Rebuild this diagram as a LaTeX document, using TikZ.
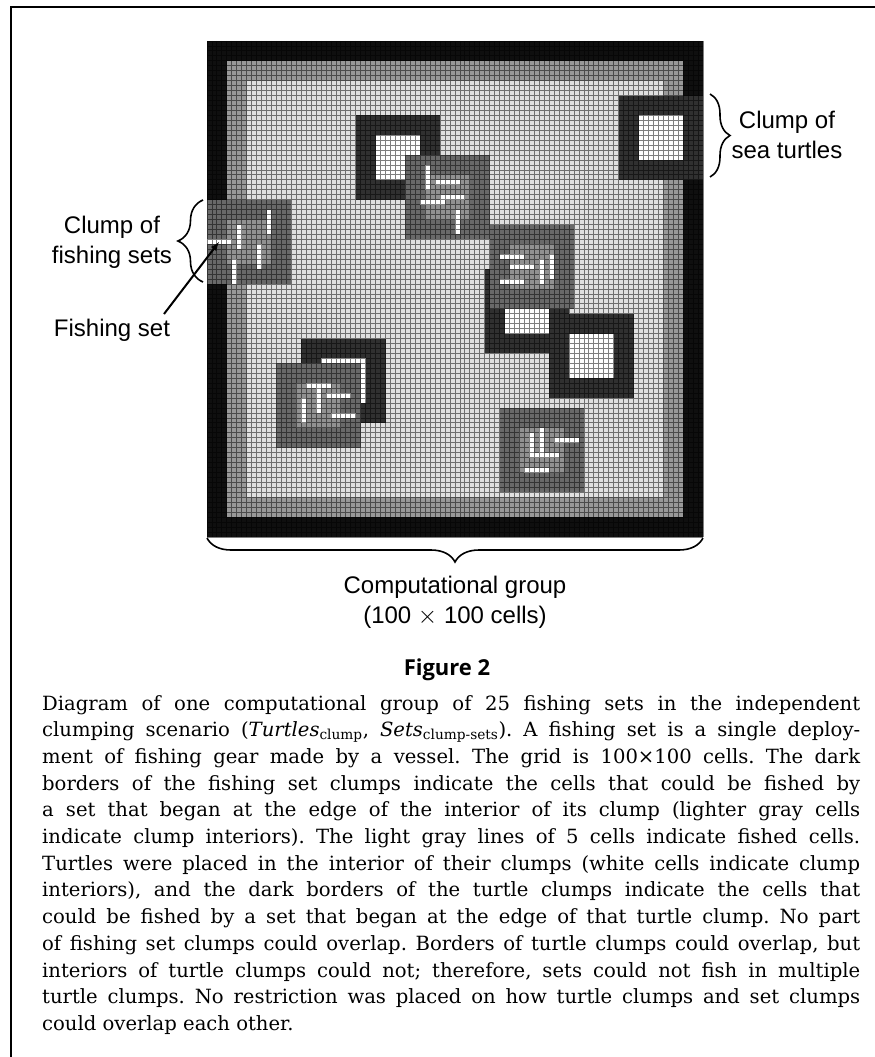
\documentclass[tikz,border=0pt]{standalone}
\usepackage{fontspec}
\usetikzlibrary{decorations.pathreplacing}
\newfontfamily\labelfont{Liberation Sans}
\newfontfamily\headfont{Open Sans}
\newfontfamily\bodyfont{DejaVu Serif}
\definecolor{ringblack}{gray}{0.06}
\definecolor{ringgray}{gray}{0.6}
\definecolor{seafill}{gray}{0.88}
\definecolor{turtleedge}{gray}{0.19}
\definecolor{setedge}{gray}{0.41}
\definecolor{setcore}{gray}{0.57}
\begin{document}
\begin{tikzpicture}[x=1pt, y=-1pt,
    lab/.style = {font=\labelfont\fontsize{24}{30}\selectfont, align=center, inner sep=0pt},
    bracket/.style = {draw, line width=1.6pt, decorate, decoration={brace, amplitude=#1}},
    pointer/.style = {draw, line width=2pt, -latex},
    gridline/.style = {draw=black, opacity=0.5, line width=0.9pt},
    captext/.style = {text width=818pt, align=justify, inner sep=0pt,
        font=\bodyfont\fontsize{19.6}{26.7}\selectfont\frenchspacing}]
    \useasboundingbox (0,0) rectangle (875,1057);
    \draw[line width=2pt] (11,1057) -- (11,7) -- (875,7);
    % the 100 x 100 cells
    \begin{scope}[shift={(207pt,-41pt)}, x=4.96pt, y=-4.96pt]
        \fill[ringblack] (0,0) rectangle (100,100);
        \fill[ringgray] (4,4) rectangle (96,96);
        \fill[seafill] (8,8) rectangle (92,92);
        % turtle clumps
        \foreach \c/\r in {83/11, 30/15, 56/46, 69/55, 19/60} {
            \fill[turtleedge] (\c,\r) rectangle +(17,17);
            \fill[white] (\c+4,\r+4) rectangle +(9,9);
        }
        % fishing set clumps
        \foreach \c/\r in {0/32, 40/23, 57/37, 59/74, 14/65} {
            \fill[setedge] (\c,\r) rectangle +(17,17);
            \fill[setcore] (\c+4,\r+4) rectangle +(9,9);
        }
        % fishing sets
        \foreach \c/\r/\w/\h in {12/34/1/5, 6/37/1/5, 0/40/5/1, 10/41/1/5, 5/44/1/5,
                44/25/1/5, 46/28/5/1, 47/31/5/1, 43/32/5/1, 50/34/1/5,
                59/43/5/1, 61/45/5/1, 59/48/5/1, 67/44/1/5, 69/43/1/5,
                65/79/1/5, 67/78/1/5, 66/83/5/1, 70/80/5/1, 64/86/5/1,
                20/69/5/1, 22/70/1/5, 24/71/5/1, 19/72/1/5, 25/75/5/1} {
            \fill[white] (\c,\r) rectangle +(\w,\h);
        }
        \draw[gridline] foreach \k in {0,...,100} {(\k,0) -- (\k,100) (0,\k) -- (100,\k)};
    \end{scope}
    % labels
    \coordinate (tb1) at (710,94);
    \coordinate (tb2) at (710,177);
    \draw[bracket=20] (tb1) -- (tb2);
    \node[lab] (turtlelab) at (787,135) {Clump of\\sea turtles};
    \coordinate (sb1) at (203,282);
    \coordinate (sb2) at (203,200);
    \draw[bracket=25] (sb1) -- (sb2);
    \node[lab] (setlab) at (112,242) {Clump of\\fishing sets};
    \node[lab] (fishlab) at (112,330) {Fishing set};
    \coordinate (fishtail) at (164,314);
    \coordinate (fishtip) at (219,242);
    \draw[pointer] (fishtail) -- (fishtip);
    \coordinate (gb1) at (703,538);
    \coordinate (gb2) at (207,538);
    \draw[bracket=24] (gb1) -- (gb2);
    \node[lab] (grouplab) at (455,602) {Computational group\\(100 $\times$ 100 cells)};
    \node[font=\headfont\bfseries\fontsize{22}{26}\selectfont, inner sep=0pt] (figlab) at (447,670) {Figure 2};
    \node[captext, anchor=base west] (caption) at (42,710) {Diagram of one computational group of 25 fishing sets in the independent\linebreak
        clumping scenario (\textit{Turtles}\textsubscript{clump}, \textit{Sets}\textsubscript{clump-sets}). A fishing set is a single deploy-\linebreak
        ment of fishing gear made by a vessel. The grid is 100×100 cells. The dark\linebreak
        borders of the fishing set clumps indicate the cells that could be fished by\linebreak
        a set that began at the edge of the interior of its clump (lighter gray cells\linebreak
        indicate clump interiors). The light gray lines of 5 cells indicate fished cells.\linebreak
        Turtles were placed in the interior of their clumps (white cells indicate clump\linebreak
        interiors), and the dark borders of the turtle clumps indicate the cells that\linebreak
        could be fished by a set that began at the edge of that turtle clump. No part\linebreak
        of fishing set clumps could overlap. Borders of turtle clumps could overlap, but\linebreak
        interiors of turtle clumps could not; therefore, sets could not fish in multiple\linebreak
        turtle clumps. No restriction was placed on how turtle clumps and set clumps\linebreak
        could overlap each other.};
\end{tikzpicture}
\end{document}
